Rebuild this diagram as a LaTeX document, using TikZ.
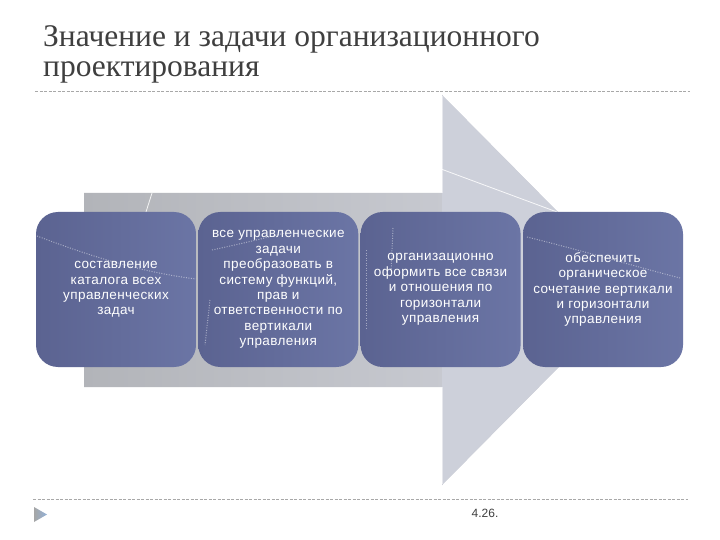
\documentclass[tikz,border=0pt]{standalone}
\usepackage{fontspec}
\setmainfont{Liberation Serif}
\newfontfamily\boxfont[LetterSpace=3]{Liberation Sans}
\newfontfamily\pgfont{Liberation Sans}
\definecolor{titlegray}{HTML}{3F3F3F}
\definecolor{rulegray}{HTML}{A8A8A8}
\definecolor{arrowL}{HTML}{B2B4B9}
\definecolor{arrowR}{HTML}{D2D4DC}
\definecolor{headc}{HTML}{CDD0DA}
\definecolor{boxL}{HTML}{5B6391}
\definecolor{boxR}{HTML}{6B75A5}
\definecolor{bulletblue}{HTML}{93B2D8}
\tikzset{
  stagebox/.style={rounded corners=22pt, left color=boxL, right color=boxR, draw=none,
    minimum width=160pt, minimum height=155pt, inner sep=0pt, align=center,
    text=white, font=\boxfont\fontsize{13.5}{15.4}\selectfont},
  dashrule/.style={rulegray, line width=0.8pt, dash pattern=on 3pt off 1.5pt},
  sketchline/.style={white, line width=0.8pt, opacity=0.85},
  dotline/.style={white, line width=1pt, opacity=0.45, dash pattern=on 1pt off 1.5pt}
}
\begin{document}
\begin{tikzpicture}[x=1pt,y=-1pt]
\useasboundingbox (0,0) rectangle (720,540);
\fill[white] (0,0) rectangle (720,540);
% title
\node[anchor=base west, inner sep=0pt, align=left, text=titlegray,
      font=\fontsize{31.5}{30}\selectfont] (title) at (43,77)
  {Значение и задачи организационного\\проектирования};
\coordinate (rt1) at (35,91);
\coordinate (rt2) at (690,91);
\draw[dashrule] (rt1) -- (rt2);
% big arrow
\shade[left color=arrowL, right color=arrowR]
  (84,193) -- (442,193) -- (442,95) -- (635,290) -- (442,485) -- (442,387) -- (84,387) -- cycle;
\fill[headc] (442,95) -- (635,290) -- (442,485) -- cycle;
\draw[white, opacity=0.5, line width=0.8pt] (442.5,96) -- (442.5,193);
\draw[white, opacity=0.5, line width=0.8pt] (442.5,387) -- (442.5,484);
\draw[sketchline] (152,193) -- (146,212);
\draw[sketchline] (441,169) -- (557,212);
% stage boxes
\node[stagebox] (s1) at (116,289.5) {составление\\каталога всех\\управленческих\\задач};
\node[stagebox] (s2) at (278.3,289.5) {все управленческие\\задачи\\преобразовать в\\систему функций,\\прав и\\ответственности по\\вертикали\\управления};
\node[stagebox] (s3) at (440.6,289.5) {организационно\\оформить все связи\\и отношения по\\горизонтали\\управления};
\node[stagebox] (s4) at (603,289.5) {обеспечить\\органическое\\сочетание вертикали\\и горизонтали\\управления};
% faint sketch dots
\draw[dotline] (37,236) .. controls (90,256) and (140,272) .. (196,279);
\draw[dotline] (212,250) .. controls (240,244) and (265,238) .. (285,233);
\draw[dotline] (210,300) -- (205,345);
\draw[dotline] (393,228) -- (391,272);
\draw[dotline] (366,250) -- (366,330);
\draw[dotline] (527,237) .. controls (580,250) and (630,265) .. (680,278);
% bottom rule, bullet, page number
\coordinate (rb1) at (33,499);
\coordinate (rb2) at (688,499);
\draw[dashrule] (rb1) -- (rb2);
\shade[left color=gray!70, right color=bulletblue] (34,507) -- (47,514.5) -- (34,522) -- cycle;
\node[font=\pgfont\fontsize{12}{14}\selectfont, text=titlegray] (pg) at (485,513) {4.26.};
\end{tikzpicture}
\end{document}
